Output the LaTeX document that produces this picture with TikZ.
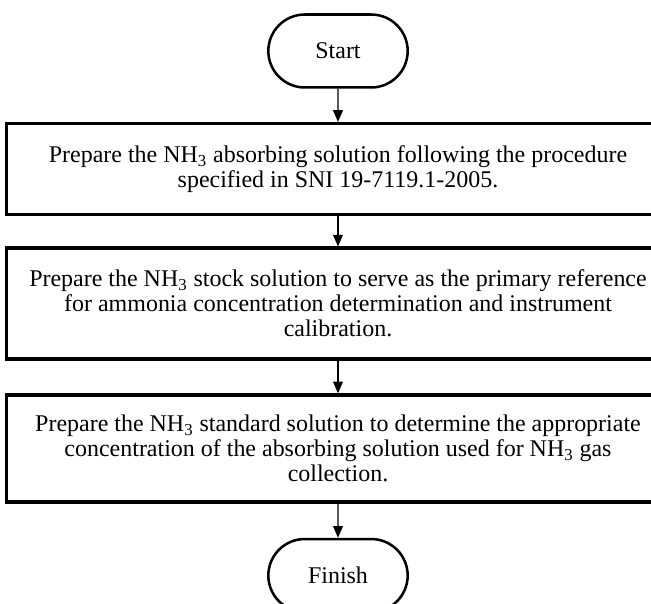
\documentclass[tikz,border=0pt]{standalone}
\usepackage{fontspec}
\setmainfont{Liberation Serif}
\usetikzlibrary{arrows.meta,shapes.misc}

\tikzset{
	,font = \fontsize{13.3}{14}\selectfont
	,mystep/.style  = {rectangle, draw=black, line width=1.8pt, align=center, minimum width=368pt, inner sep=2pt}
	,myterm/.style  = {rounded rectangle, draw=black, line width=1.4pt, minimum width=84pt, minimum height=40.5pt}
	,edger/.style   = {-{Triangle[width=5.5pt,length=6.5pt]}, line width=0.6pt}
}

\begin{document}
\begin{tikzpicture}[x=0.555pt, y=-0.555pt]
				\useasboundingbox (0,0) rectangle (651,604);
				\clip (0,0) rectangle (651,604);
				\node[myterm] at (338, 51) (start) {Start};
				\node[mystep, minimum height=50.5pt] at (338, 169) (absorb) {Prepare the NH\textsubscript{3} absorbing solution following the procedure\\specified in SNI 19-7119.1-2005.};
				\node[mystep, minimum height=61.5pt] at (338, 303.5) (stock) {Prepare the NH\textsubscript{3} stock solution to serve as the primary reference\\for ammonia concentration determination and instrument\\calibration.};
				\node[mystep, minimum height=59.5pt] at (338, 448.5) (standard) {Prepare the NH\textsubscript{3} standard solution to determine the appropriate\\concentration of the absorbing solution used for NH\textsubscript{3} gas\\collection.};
				\node[myterm] at (338, 575.5) (finish) {Finish};
				\draw[edger] (start) edge (absorb);
				\draw[edger] (absorb) edge (stock);
				\draw[edger] (stock) edge (standard);
				\draw[edger] (standard) edge (finish);
			\end{tikzpicture}
\end{document}
